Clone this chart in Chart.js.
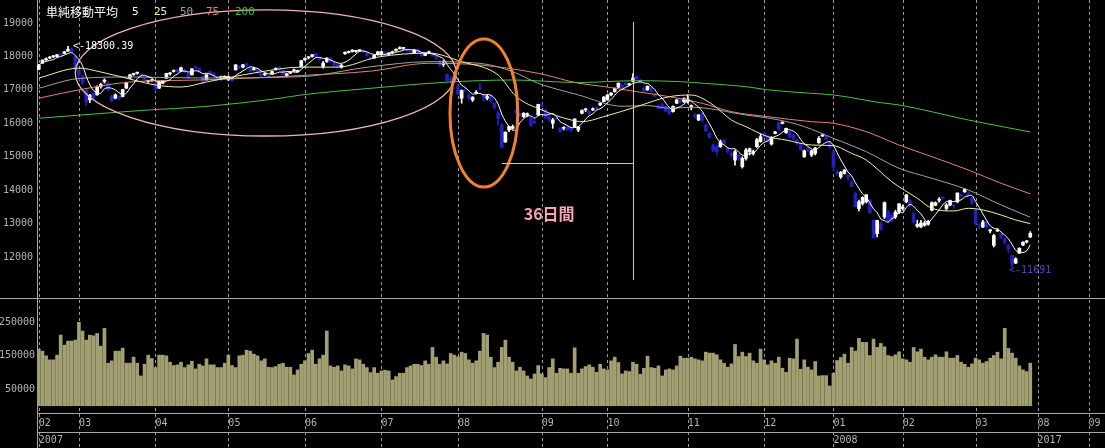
<!DOCTYPE html>
<html><head><meta charset="utf-8">
<script src="https://cdn.jsdelivr.net/npm/chart.js@4.4.0/dist/chart.umd.min.js"></script>
<style>html,body{margin:0;padding:0;background:#000;overflow:hidden}canvas{display:block}</style>
</head><body>
<canvas id="c" width="1105" height="448"></canvas>
<script>
// ---------- categories / ticks ----------
const monthLabels = ['02','03','04','05','06','07','08','09','10','11','12','01','02','03','08','09'];
const monthStarts = [0,11,32,52,73,94,115,138,156,178,199,218,237,257,274,288];
const yearLabels = ['2007','2008','2017'];
const yearStarts = [0,218,274];
const slotCount = 293;
const priceTicks = [12000,13000,14000,15000,16000,17000,18000,19000];
const volumeTicks = [50000,150000,250000];

// ---------- daily candles (Feb 2007 - Mar 2008) ----------
const opens = [
17620,17800,17900,17950,17990,18000,18060,18090,18160,18230,18000,
17600,17400,17000,16700,16900,16850,17100,17250,17200,16800,16750,16800,16800,17050,17350,17460,17500,17470,17350,17250,17270,
17200,17050,17200,17350,17480,17550,17600,17560,17600,17500,17450,17700,17650,17400,17300,17550,17500,17350,17330,17350,
17300,17350,17600,17700,17680,17780,17650,17600,17650,17500,17450,17420,17480,17600,17680,17580,17420,17500,17560,17550,17700,
17900,17960,18000,18080,17950,17700,17850,17950,17800,17760,17680,18080,18120,18150,18150,18170,18160,18100,17950,17950,18050,
18050,18120,18060,18100,18180,18230,18240,18210,18150,18100,18200,18100,18030,18100,18080,18000,17850,17760,17450,17320,17350,
17100,16750,17000,16850,16700,16900,17050,16850,16750,16800,16600,16300,15950,15450,15800,15850,16400,16250,16200,16250,16150,16050,16250,
16550,16400,16200,16000,16150,15850,15850,15900,15850,15900,15800,16300,16400,16350,16400,16480,16550,16650,
16700,16850,16950,17080,17150,17200,17150,17250,17400,17300,17050,17000,17050,16850,16500,16550,16500,16400,16350,16600,16700,16650,
16650,16500,16250,16100,16300,15950,15700,15350,15300,15300,15500,15250,15100,14900,15050,14700,14950,15150,15100,15300,15450,
15700,15600,15380,15700,16000,16000,15720,15750,15650,15500,15350,15000,15250,15050,15100,15420,15620,15600,15430,
15150,14550,14400,14500,14450,14250,13900,13450,13600,13650,13700,13100,12700,13000,13200,13350,13250,13200,13350,
13450,13650,13700,13300,12920,12900,12950,12980,13400,13550,13700,13780,13450,13550,13550,13650,13830,13950,13900,13780,
13400,12950,12900,13050,12780,12350,12780,12700,12550,12350,12050,11820,12120,12360,12450,12600];
const highs = [
17760,17900,17960,18000,18030,18060,18100,18150,18300.39,18260,18010,
17620,17430,17050,16870,16950,17120,17200,17330,17230,16850,16880,16820,17020,17230,17460,17500,17530,17490,17360,17290,17320,
17220,17260,17280,17500,17520,17600,17620,17680,17620,17510,17640,17720,17660,17420,17460,17570,17510,17360,17380,17420,
17420,17380,17760,17720,17760,17800,17670,17680,17660,17510,17500,17440,17560,17660,17700,17590,17500,17550,17620,17590,17880,
17960,17990,18060,18100,17980,17850,17960,17970,17820,17790,17760,18140,18160,18200,18180,18200,18190,18120,17980,18040,18150,
18150,18140,18120,18160,18230,18290,18260,18230,18170,18200,18230,18120,18100,18160,18100,18020,17900,17880,17480,17400,17380,
17150,17000,17050,16900,16800,16980,17200,16870,16850,16850,16620,16350,16000,15750,15920,15950,16420,16300,16320,16310,16200,16150,16570,
16600,16420,16250,16150,16200,15880,15900,15920,15870,16140,15900,16400,16450,16380,16460,16500,16620,16800,
16870,16920,17060,17210,17180,17230,17200,17488,17420,17320,17080,17120,17080,16900,16560,16600,16520,16420,16520,16720,16710,16760,
16850,16550,16300,16260,16320,15980,15720,15380,15350,15500,15520,15280,15150,15200,15080,15000,15250,15260,15200,15550,15680,
15740,15650,15600,15760,16030,16050,15860,15760,15670,15520,15400,15200,15300,15200,15280,15600,15680,15620,15440,
15160,14600,14560,14620,14470,14280,13950,13700,13800,13870,13720,13120,13100,13050,13650,13400,13300,13400,13600,
13550,13870,13720,13320,13100,13100,13080,13100,13650,13650,13780,13800,13600,13700,13580,13920,13880,14050,13950,13800,
13450,13000,13100,13080,12830,12680,12850,12720,12570,12370,12060,11980,12280,12460,12500,12760];
const lows = [
17600,17790,17880,17930,17960,17980,18020,18080,18150,18100,17580,
17300,17150,16532,16620,16720,16840,17050,17200,16980,16640,16730,16700,16790,17040,17340,17430,17470,17410,17260,17220,17250,
16980,17040,17180,17340,17440,17530,17520,17550,17500,17340,17440,17620,17520,17180,17290,17470,17400,17280,17300,17330,
17280,17250,17590,17640,17660,17700,17530,17590,17480,17400,17430,17360,17470,17590,17580,17450,17400,17490,17550,17520,17690,
17880,17920,17980,17970,17880,17650,17820,17820,17700,17670,17650,18060,18100,18130,18120,18150,18120,18000,17900,17940,18040,
18040,18020,18040,18080,18160,18220,18210,18150,18080,18090,18100,18000,18020,18080,18000,17920,17700,17700,17250,17200,17200,
16850,16600,16950,16700,16650,16880,17000,16650,16700,16650,16420,15950,15262,15420,15750,15820,16250,16180,16170,16200,15900,16000,16240,
16480,16150,16050,15850,16100,15720,15800,15780,15750,15880,15750,16280,16350,16250,16380,16400,16530,16640,
16690,16820,16930,17060,17040,17130,17130,17240,17300,17190,16940,16980,16930,16780,16420,16430,16340,16250,16330,16590,16600,16620,
16600,16400,16150,16080,16050,15750,15550,15150,15050,15280,15380,15100,15000,14750,14900,14660,14900,15050,15050,15280,15430,
15580,15450,15350,15680,15800,15980,15700,15550,15500,15350,15200,14980,15150,15000,15050,15400,15600,15500,15250,
14600,14450,14350,14480,14300,14100,13500,13380,13550,13620,13300,12572,12600,12800,13150,13050,13050,13150,13300,
13400,13620,13500,13000,12880,12880,12920,12950,13380,13530,13640,13720,13400,13530,13450,13620,13800,13930,13840,13580,
12960,12850,12880,12850,12720,12300,12760,12550,12380,12120,11691,11800,12100,12340,12420,12580];
const closes = [
17740,17890,17920,17980,17990,18050,18040,18140,18215,18119,17604,
17453,17217,16642,16844,16764,17092,17164,17292,17009,16676,16850,16744,17009,17216,17452,17480,17500,17440,17300,17250,17287,
17028,17244,17263,17491,17490,17570,17541,17660,17541,17363,17628,17667,17540,17205,17452,17493,17420,17308,17357,17400,
17394,17274,17746,17672,17748,17737,17553,17638,17512,17410,17470,17399,17550,17640,17600,17460,17480,17530,17600,17580,17875,
17938,17970,18053,17980,17900,17800,17950,17840,17740,17700,17740,18120,18140,18189,18150,18188,18140,18020,17930,18030,18138,
18146,18050,18100,18140,18200,18261,18240,18180,18120,18190,18120,18015,18080,18140,18020,17950,17750,17800,17283,17290,17248,
16870,16984,16979,16762,16780,16921,17029,16764,16800,16688,16475,16148,15273,15732,15900,15901,16316,16248,16301,16287,15950,16012,16569,
16524,16158,16100,16100,16122,15764,15877,15797,15800,16127,15890,16381,16413,16312,16434,16418,16600,16785,
16845,16902,17046,17199,17065,17159,17177,17358,17331,17207,16955,17106,16955,16814,16438,16458,16359,16284,16505,16698,16651,16737,
16720,16517,16212,16250,16096,15771,15583,15197,15150,15440,15400,15150,15042,15150,14950,14950,15200,15237,15153,15513,15600,
15628,15480,15580,15740,15820,16020,15850,15600,15536,15400,15207,15180,15207,15180,15257,15552,15620,15520,15307,
14691,14500,14528,14599,14388,14110,13504,13650,13783,13861,13325,12573,13092,12829,13629,13087,13099,13345,13592,
13497,13859,13573,13046,12980,13017,13021,13068,13626,13622,13720,13760,13560,13688,13540,13914,13824,14020,13842,13603,
13012,12930,13050,12900,12782,12640,12810,12600,12433,12241,11787,11945,12260,12440,12480,12709];
const volumes = [
169000,163000,149000,137000,137000,151000,211000,181000,193000,193000,
196000,249000,223000,196000,211000,209000,216000,178000,231000,127000,
134000,163000,163000,172000,127000,127000,145000,127000,89000,124000,
151000,141000,114000,151000,151000,149000,130000,120000,122000,130000,
114000,122000,133000,110000,124000,119000,140000,122000,122000,114000,
114000,127000,151000,120000,114000,149000,151000,166000,163000,154000,
149000,134000,140000,115000,114000,117000,124000,127000,115000,115000,
92000,107000,124000,134000,156000,166000,124000,140000,151000,223000,
119000,115000,119000,104000,122000,119000,110000,140000,137000,124000,
114000,99000,114000,97000,104000,106000,104000,77000,87000,97000,
97000,114000,119000,124000,124000,120000,134000,124000,174000,145000,
124000,134000,125000,156000,151000,146000,160000,156000,137000,127000,
134000,163000,216000,211000,145000,114000,130000,174000,196000,145000,
130000,104000,115000,104000,89000,80000,
95000,120000,95000,84000,114000,140000,97000,112000,110000,110000,
97000,173000,97000,110000,117000,122000,115000,100000,124000,110000,
107000,134000,145000,129000,95000,104000,102000,130000,124000,94000,
112000,148000,114000,112000,119000,89000,107000,110000,107000,119000,
148000,142000,142000,145000,140000,137000,134000,160000,157000,157000,
152000,137000,127000,115000,125000,183000,147000,160000,147000,157000,
134000,127000,169000,137000,122000,134000,127000,145000,112000,100000,
142000,140000,199000,109000,137000,115000,107000,132000,89000,90000,
90000,59000,97000,135000,144000,154000,127000,174000,163000,201000,
189000,189000,150000,199000,174000,186000,176000,150000,147000,152000,
161000,140000,137000,130000,174000,161000,169000,145000,137000,145000,
152000,145000,145000,161000,142000,142000,150000,130000,124000,115000,
125000,142000,137000,127000,132000,142000,150000,160000,140000,231000,
171000,157000,142000,119000,107000,102000,127000];

// ---------- moving averages: [slot, value] ----------
const ma25 = [[0,17355],[11,17650],[17,17535],[26,17295],[32,17145],[39,17085],[46,17235],[53,17385],[59,17505],[72,17680],[82,17680],[93,17980],[107,18100],[116,17843],[126,17445],[131,16796],[138,16398],[146,16100],[149,16048],[155,16198],[164,16497],[173,16796],[179,16846],[185,16547],[190,16100],[194,15898],[200,15600],[205,15500],[212,15350],[218,15330],[223,15100],[227,14900],[234,14254],[241,13757],[245,13457],[251,13377],[255,13457],[259,13407],[264,13257],[268,13108],[272,13000]];
const ma50 = [[0,17050],[11,17340],[26,17385],[44,17355],[72,17395],[91,17690],[107,17843],[121,17794],[130,17544],[137,17196],[148,16850],[160,16510],[167,16530],[173,16450],[179,16480],[194,16248],[203,16099],[210,15900],[218,15550],[227,15151],[236,14654],[245,14355],[255,14005],[264,13556],[272,13190]];
const ma75 = [[0,16750],[11,17000],[26,17245],[44,17295],[72,17430],[91,17560],[107,17794],[121,17744],[137,17495],[148,17200],[155,17100],[164,16946],[173,16796],[182,16598],[190,16348],[200,16198],[212,16048],[218,16000],[227,15749],[236,15350],[245,15001],[255,14603],[264,14205],[272,13890]];
const ma200 = [[0,16150],[30,16398],[45,16497],[66,16747],[72,16847],[91,17047],[112,17230],[130,17295],[148,17220],[164,17275],[176,17245],[182,17200],[194,17096],[200,17000],[212,16897],[218,16847],[231,16617],[236,16548],[255,16099],[272,15740]];

// ---------- annotations (in data units) ----------
const pinkEllipse = {from:10, to:114.5, top:19390, bottom:15620};
const orangeEllipse = {from:112.8, to:131.4, top:18521, bottom:14095};
const spanStart = 127, spanEnd = 163, spanPrice = 14814, spanTop = 19030, spanBottom = 11313;
const spanText = '36日間', spanTextSlot = 140, spanTextPrice = 13290;

// ---------- chart ----------
const UP = '#ffffff', DOWN = '#2020c8';
const candleColors = closes.map((c,i)=> c >= opens[i] ? UP : DOWN);
const ma5 = closes.map((c,i)=>{ const s = closes.slice(Math.max(0,i-4), i+1); return {x:i, y:s.reduce((a,b)=>a+b,0)/s.length}; });
const knots = a => a.map(([x,y])=>({x,y}));
const lineDs = (data,color,order,extra) => Object.assign({type:'line', data, borderColor:color, borderWidth:1, pointRadius:0, fill:false, yAxisID:'y', xAxisID:'x', order, cubicInterpolationMode:'monotone'}, extra||{});

const MONO = '"DejaVu Sans Mono", monospace';
const TICKCOL = '#b4b4b4';

const deco = {
  id:'deco',
  beforeDraw(chart){
    const c = chart.ctx; c.save(); c.fillStyle = '#000'; c.fillRect(0,0,chart.width,chart.height); c.restore();
  },
  beforeDatasetsDraw(chart){
    const c = chart.ctx, xs = chart.scales.x, x2 = chart.scales.x2, yv = chart.scales.yv;
    c.save();
    c.strokeStyle = '#9a9a9a'; c.lineWidth = 1; c.setLineDash([3,3]);
    monthStarts.forEach(m=>{ const px = Math.round(xs.getPixelForValue(m)) + 0.5; c.beginPath(); c.moveTo(px,0); c.lineTo(px,chart.height); c.stroke(); });
    c.setLineDash([]);
    c.strokeStyle = '#a8a8a8';
    const left = Math.round(xs.left) + 0.5;
    const hl = (y,x0) => { c.beginPath(); c.moveTo(x0,y); c.lineTo(chart.width,y); c.stroke(); };
    hl(Math.round(yv.top)+0.5, 0);
    hl(Math.round(xs.top)+0.5, left);
    hl(Math.round(x2.top)+0.5, left);
    c.beginPath(); c.moveTo(left,0); c.lineTo(left,chart.height); c.stroke();
    c.restore();
  },
  afterDatasetsDraw(chart){
    const c = chart.ctx, xs = chart.scales.x, ys = chart.scales.y;
    const X = v => xs.getPixelForValue(v), Y = v => ys.getPixelForValue(v);
    c.save();
    // pink ellipse
    c.strokeStyle = '#f2b4b4'; c.lineWidth = 1.3;
    c.beginPath();
    c.ellipse((X(pinkEllipse.from)+X(pinkEllipse.to))/2, (Y(pinkEllipse.top)+Y(pinkEllipse.bottom))/2,
      (X(pinkEllipse.to)-X(pinkEllipse.from))/2, (Y(pinkEllipse.bottom)-Y(pinkEllipse.top))/2, 0, 0, Math.PI*2);
    c.stroke();
    // orange ellipse
    c.strokeStyle = '#f0822e'; c.lineWidth = 3;
    c.beginPath();
    c.ellipse((X(orangeEllipse.from)+X(orangeEllipse.to))/2, (Y(orangeEllipse.top)+Y(orangeEllipse.bottom))/2,
      (X(orangeEllipse.to)-X(orangeEllipse.from))/2, (Y(orangeEllipse.bottom)-Y(orangeEllipse.top))/2, 0, 0, Math.PI*2);
    c.stroke();
    // span lines
    c.strokeStyle = '#f2b8c0'; c.lineWidth = 1;
    const vx = Math.round(X(spanEnd))+0.5;
    c.beginPath(); c.moveTo(vx, Y(spanTop)); c.lineTo(vx, Y(spanBottom)); c.stroke();
    const hy = Math.round(Y(spanPrice))+0.5;
    c.beginPath(); c.moveTo(X(spanStart), hy); c.lineTo(vx, hy); c.stroke();
    c.fillStyle = '#f2a4b8'; c.font = 'bold 16px "Noto Sans CJK JP", sans-serif';
    c.textAlign = 'center'; c.textBaseline = 'middle';
    c.fillText(spanText, X(spanTextSlot), Y(spanTextPrice));
    // high / low labels
    let hi = 0, lo = 0;
    highs.forEach((h,i)=>{ if (h > highs[hi]) hi = i; });
    lows.forEach((l,i)=>{ if (l < lows[lo]) lo = i; });
    c.font = '10px ' + MONO; c.textAlign = 'left';
    c.fillStyle = '#ffffff';
    c.fillText('<-' + highs[hi].toFixed(2), X(hi)+5, Y(highs[hi]));
    c.fillStyle = '#4848d0';
    c.fillText('<-' + lows[lo], X(lo)-3, Y(lows[lo])+3);
    // legend
    c.fillStyle = '#ffffff'; c.font = '12px "Noto Sans CJK JP", sans-serif';
    c.fillText('単純移動平均', 46, 12);
    c.font = '11px ' + MONO;
    [['5','#ffffff',132],['25','#f0f0a0',154],['50','#a0a0a0',180],['75','#e08070',206],['200','#40c040',235]].forEach(([t,col,x])=>{ c.fillStyle = col; c.fillText(t, x, 12); });
    c.restore();
  }
};

const fixedTicks = vals => s => { s.ticks = vals.map(v=>({value:v})); };
const noPad = s => { s.paddingTop = 0; s.paddingBottom = 0; s.paddingLeft = 0; s.paddingRight = 0; };
const fitW = w => s => { s.width = w; noPad(s); };
const fitH = h => s => { s.height = h; noPad(s); };

new Chart(document.getElementById('c'), {
  type:'bar',
  data:{ datasets:[
    lineDs(ma5, '#ffffff', 0, {cubicInterpolationMode:'default', tension:0.35}),
    lineDs(knots(ma25), '#f0f0a0', 1),
    lineDs(knots(ma50), '#a0a0a0', 2),
    lineDs(knots(ma75), '#e6806a', 3),
    lineDs(knots(ma200), '#48c048', 4),
    {type:'bar', data: closes.map((c,i)=>({x:i, y:[opens[i], c]})), backgroundColor: candleColors, barThickness:3, minBarLength:1, grouped:false, borderWidth:0, xAxisID:'x', yAxisID:'y', order:5},
    {type:'bar', data: lows.map((l,i)=>({x:i, y:[l, highs[i]]})), backgroundColor: candleColors, barThickness:1, grouped:false, borderWidth:0, xAxisID:'x', yAxisID:'y', order:6},
    {type:'bar', data: volumes.map((v,i)=>({x:i, y:v})), backgroundColor:'#a2a072', barThickness:3, grouped:false, borderWidth:0, xAxisID:'x', yAxisID:'yv', order:7}
  ]},
  options:{
    responsive:false, animation:false, devicePixelRatio:1, events:[],
    layout:{padding:0},
    plugins:{legend:{display:false}, tooltip:{enabled:false}},
    scales:{
      x:{type:'linear', position:'bottom', weight:0, min:-0.5, max:slotCount-0.5, bounds:'data', offset:false,
         grid:{display:false, drawTicks:false}, border:{display:false},
         afterBuildTicks: fixedTicks(monthStarts),
         afterFit: fitH(19),
         ticks:{autoSkip:false, maxRotation:0, minRotation:0, align:'start', padding:4, color:TICKCOL, font:{family:MONO, size:10}, callback:(v,i)=>monthLabels[i]}},
      x2:{type:'linear', axis:'x', position:'bottom', weight:1, min:-0.5, max:slotCount-0.5, bounds:'data', offset:false,
         grid:{display:false, drawTicks:false}, border:{display:false},
         afterBuildTicks: fixedTicks(yearStarts),
         afterFit: fitH(16),
         ticks:{autoSkip:false, maxRotation:0, minRotation:0, align:'start', padding:2, color:TICKCOL, font:{family:MONO, size:10}, callback:(v,i)=>yearLabels[i]}},
      y:{type:'linear', position:'left', stack:'main', stackWeight:298, weight:1, min:10774, max:19688, bounds:'data',
         grid:{display:false, drawTicks:false}, border:{display:false},
         afterBuildTicks: fixedTicks(priceTicks),
         afterFit: fitW(37),
         ticks:{autoSkip:false, padding:4, color:TICKCOL, font:{family:MONO, size:10}, callback:v=>String(v)}},
      yv:{type:'linear', axis:'y', position:'left', stack:'main', stackWeight:115, weight:0, min:-21642, max:321642, bounds:'data',
         grid:{display:false, drawTicks:false}, border:{display:false},
         afterBuildTicks: fixedTicks(volumeTicks),
         afterFit: fitW(37),
         ticks:{autoSkip:false, padding:2, color:TICKCOL, font:{family:MONO, size:10}, callback:v=>String(v)}}
    }
  },
  plugins:[deco]
});
</script>
</body></html>
